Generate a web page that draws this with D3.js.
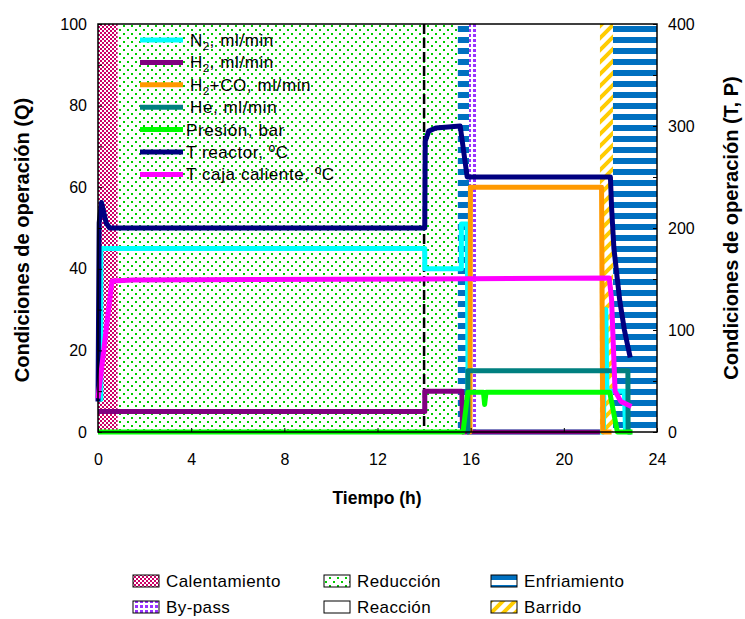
<!DOCTYPE html>
<html>
<head>
<meta charset="utf-8">
<script src="https://cdn.jsdelivr.net/npm/d3@7"></script>
<style>
  body { margin: 0; background: #fff; }
  svg { font-family: "Liberation Sans", Arial, sans-serif; }
</style>
</head>
<body>
<svg class="chart" width="745" height="619"></svg>
<script>
// axis ticks
let hourTicks = d3.range(0, 25, 4);
let qTicks = d3.range(0, 101, 10);
let tpTicks = d3.range(0, 401, 50);

// phases of the run (h)
let phaseNames = ["Calentamiento", "Reducción", "Enfriamiento", "By-pass", "Reacción", "Barrido", "Enfriamiento"];
let phaseStart = [0, 0.85, 15.45, 15.93, 16.3, 21.55, 22.11];
let phaseEnd = [0.85, 15.45, 15.93, 16.3, 21.55, 22.11, 24];
let legendPhases = ["Calentamiento", "Reducción", "Enfriamiento", "By-pass", "Reacción", "Barrido"];
let cambioGas = 14.0;

// series (left axis Q = ml/min, right axis T, P)
let n2Time = [0, 0.12, 0.12, 14.03, 14.03, 15.6, 15.6, 15.85, 15.9, 21.7, 21.75, 21.8, 21.85, 22.6, 22.65];
let n2Flow = [8, 8, 45, 45, 40, 40, 51, 51, 0, 0, 30, 30, 10, 10, 0];
let h2Time = [0, 14.03, 14.03, 15.62, 15.65, 21.55];
let h2Flow = [5, 5, 10, 10, 0, 0];
let coTime = [15.9, 15.97, 15.99, 21.62, 21.67, 22.05];
let coFlow = [0, 0, 60, 60, 0, 0];
let heTime = [15.85, 15.88, 15.88, 22.75, 22.76, 22.9];
let heFlow = [0, 0, 15, 15, 0, 0];
let presTime = [0, 15.67, 15.88, 16.55, 16.6, 16.66, 21.97, 22.3, 22.95];
let presBar = [0, 0, 39, 39, 27, 39, 39, 0, 0];
let reacTime = [0, 0.05, 0.15, 0.35, 0.5, 14.03, 14.05, 14.2, 14.5, 15.55, 15.85, 22.0, 22.05, 22.15, 22.4, 22.6, 22.85];
let reacTemp = [30, 205, 225, 205, 200, 200, 285, 295, 298, 300, 250, 250, 220, 180, 129, 100, 73];
let cajaTime = [0, 0.6, 1.5, 14, 21.95, 22.05, 22.2, 22.45, 22.9];
let cajaTemp = [33, 148, 149, 150, 151, 130, 40, 30, 25];

let seriesNames = ["N_2, ml/min", "H_2, ml/min", "H_2+CO, ml/min", "He, ml/min", "Presión, bar", "T reactor, ºC", "T caja caliente, ºC"];
let seriesColors = ["#00ffff", "#800080", "#ff9900", "#008080", "#00ff00", "#000080", "#ff00ff"];
let seriesAxis = ["Q", "Q", "Q", "Q", "TP", "TP", "TP"];
let seriesTimes = [n2Time, h2Time, coTime, heTime, presTime, reacTime, cajaTime];
let seriesValues = [n2Flow, h2Flow, coFlow, heFlow, presBar, reacTemp, cajaTemp];

let svg = d3.select("body").select(".chart");
let margin = {top: 24, right: 88, bottom: 187, left: 98};
let plotWidth = 745 - margin.left - margin.right;
let plotHeight = 619 - margin.top - margin.bottom;

let x = d3.scaleLinear().domain([0, 24]).range([0, plotWidth]);
let yQ = d3.scaleLinear().domain([0, 100]).range([plotHeight, 0]);
let yTP = d3.scaleLinear().domain([0, 400]).range([plotHeight, 0]);

// fill patterns
let defs = svg.append("defs");
let pat = defs.append("pattern").attr("id", "p-Calentamiento").attr("patternUnits", "userSpaceOnUse").attr("width", 4).attr("height", 4);
pat.append("rect").attr("width", 4).attr("height", 4).attr("fill", "#cc0066");
pat.append("rect").attr("width", 2).attr("height", 2).attr("fill", "#fff");
pat.append("rect").attr("x", 2).attr("y", 2).attr("width", 2).attr("height", 2).attr("fill", "#fff");

pat = defs.append("pattern").attr("id", "p-Reducción").attr("patternUnits", "userSpaceOnUse").attr("width", 8).attr("height", 8);
pat.append("rect").attr("width", 8).attr("height", 8).attr("fill", "#fff");
pat.append("rect").attr("x", 1).attr("y", 1).attr("width", 2).attr("height", 2).attr("fill", "#00cc00");
pat.append("rect").attr("x", 5).attr("y", 5).attr("width", 2).attr("height", 2).attr("fill", "#00cc00");

pat = defs.append("pattern").attr("id", "p-Enfriamiento").attr("patternUnits", "userSpaceOnUse").attr("width", 8).attr("height", 11);
pat.append("rect").attr("width", 8).attr("height", 11).attr("fill", "#fff");
pat.append("rect").attr("y", 2).attr("width", 8).attr("height", 6).attr("fill", "#0070c0");

pat = defs.append("pattern").attr("id", "p-By-pass").attr("patternUnits", "userSpaceOnUse").attr("width", 5).attr("height", 5);
pat.append("rect").attr("width", 5).attr("height", 5).attr("fill", "#fff");
pat.append("rect").attr("width", 3).attr("height", 3).attr("fill", "#9933ff");

pat = defs.append("pattern").attr("id", "p-Barrido").attr("patternUnits", "userSpaceOnUse").attr("width", 12).attr("height", 12);
pat.append("rect").attr("width", 12).attr("height", 12).attr("fill", "#fff");
pat.append("path").attr("d", "M-2,14L14,-2M-2,2L2,-2M10,14L14,10").attr("stroke", "#ffcc00").attr("stroke-width", 4);

pat = defs.append("pattern").attr("id", "p-Reacción").attr("patternUnits", "userSpaceOnUse").attr("width", 4).attr("height", 4);
pat.append("rect").attr("width", 4).attr("height", 4).attr("fill", "#fff");

let plot = svg.append("g").attr("id", "plot").attr("transform", translate(margin.left, margin.top));

// phase bands
plot.append("g").selectAll("rect")
  .data(phaseNames)
  .join("rect")
    .attr("x", (d, i) => x(phaseStart[i]))
    .attr("width", (d, i) => x(phaseEnd[i]) - x(phaseStart[i]))
    .attr("y", 0)
    .attr("height", plotHeight)
    .attr("fill", d => "url(#p-" + d + ")");

// gas change marker
plot.append("line")
  .attr("x1", x(cambioGas)).attr("x2", x(cambioGas))
  .attr("y1", 0).attr("y2", plotHeight)
  .attr("stroke", "#000").attr("stroke-width", 2.5).attr("stroke-dasharray", "10,4");

// series lines
seriesNames.forEach(function(name, i) {
  let yScale = seriesAxis[i] == "Q" ? yQ : yTP;
  let pts = seriesTimes[i].map((t, j) => [t, seriesValues[i][j]]);
  let line = d3.line().x(d => x(d[0])).y(d => yScale(d[1]));
  plot.append("path")
    .attr("d", line(pts))
    .attr("fill", "none")
    .attr("stroke", seriesColors[i])
    .attr("stroke-width", 5)
    .attr("stroke-linejoin", "round");
});

// frame
plot.append("rect").attr("width", plotWidth).attr("height", plotHeight)
  .attr("fill", "none").attr("stroke", "#000").attr("stroke-width", 1.5);

// axes
let xAxis = d3.axisBottom(x).tickValues(hourTicks).tickSizeInner(-4).tickSizeOuter(0).tickPadding(22);
let yAxisL = d3.axisLeft(yQ).tickValues(qTicks).tickSizeInner(-4).tickSizeOuter(0).tickPadding(11)
  .tickFormat(d => d % 20 ? "" : d);
let yAxisR = d3.axisRight(yTP).tickValues(tpTicks).tickSizeInner(-4).tickSizeOuter(0).tickPadding(11)
  .tickFormat(d => d % 100 ? "" : d);

let xGroup = plot.append("g").attr("transform", translate(0, plotHeight)).call(xAxis);
let yGroupL = plot.append("g").call(yAxisL);
let yGroupR = plot.append("g").attr("transform", translate(plotWidth, 0)).call(yAxisR);
[xGroup, yGroupL, yGroupR].forEach(function(g) {
  g.select(".domain").remove();
  g.selectAll("text").attr("font-size", 16).attr("font-family", "Liberation Sans, Arial, sans-serif").attr("fill", "#000");
  g.selectAll("line").attr("stroke", "#000");
});

// axis titles
svg.append("text")
  .attr("x", 377).attr("y", 504)
  .attr("text-anchor", "middle").attr("font-weight", "bold").attr("font-size", 17.5)
  .text("Tiempo (h)");
svg.append("text")
  .attr("transform", translate(29, 240) + " rotate(-90)")
  .attr("text-anchor", "middle").attr("font-weight", "bold").attr("font-size", 20)
  .text("Condiciones de operación (Q)");
svg.append("text")
  .attr("transform", translate(738, 228) + " rotate(-90)")
  .attr("text-anchor", "middle").attr("font-weight", "bold").attr("font-size", 20)
  .text("Condiciones de operación (T, P)");

// series legend (inside plot)
let leg = svg.append("g").attr("id", "series-legend");
seriesNames.forEach(function(name, i) {
  let yy = 40 + i * 22.4;
  leg.append("line").attr("x1", 140).attr("x2", 183).attr("y1", yy).attr("y2", yy)
    .attr("stroke", seriesColors[i]).attr("stroke-width", 5);
  let txt = leg.append("text").attr("x", i < 4 ? 190 : 186).attr("y", yy + 6)
    .attr("font-size", 17).attr("letter-spacing", 0.6);
  let parts = name.split("_");
  txt.append("tspan").text(parts[0]);
  if (parts.length > 1) {
    txt.append("tspan").attr("font-size", 11).attr("dy", 4).text(parts[1][0]);
    txt.append("tspan").attr("dy", -4).text(parts[1].slice(1));
  }
});

// phase legend (bottom)
let colX = [133, 324, 491];
let rowY = [581, 607];
let pleg = svg.append("g").attr("id", "phase-legend");
legendPhases.forEach(function(name, i) {
  let cx = colX[i % 3];
  let cy = rowY[Math.floor(i / 3)];
  pleg.append("rect").attr("x", cx).attr("y", cy - 6).attr("width", 26).attr("height", 12)
    .attr("fill", "url(#p-" + name + ")").attr("stroke", "#000").attr("stroke-width", 1);
  pleg.append("text").attr("x", cx + 33).attr("y", cy + 6)
    .attr("font-size", 17).attr("letter-spacing", 0.4).text(name);
});

function translate(x, y) {
  return 'translate(' + x + ',' + y + ')';
}
</script>
</body>
</html>
